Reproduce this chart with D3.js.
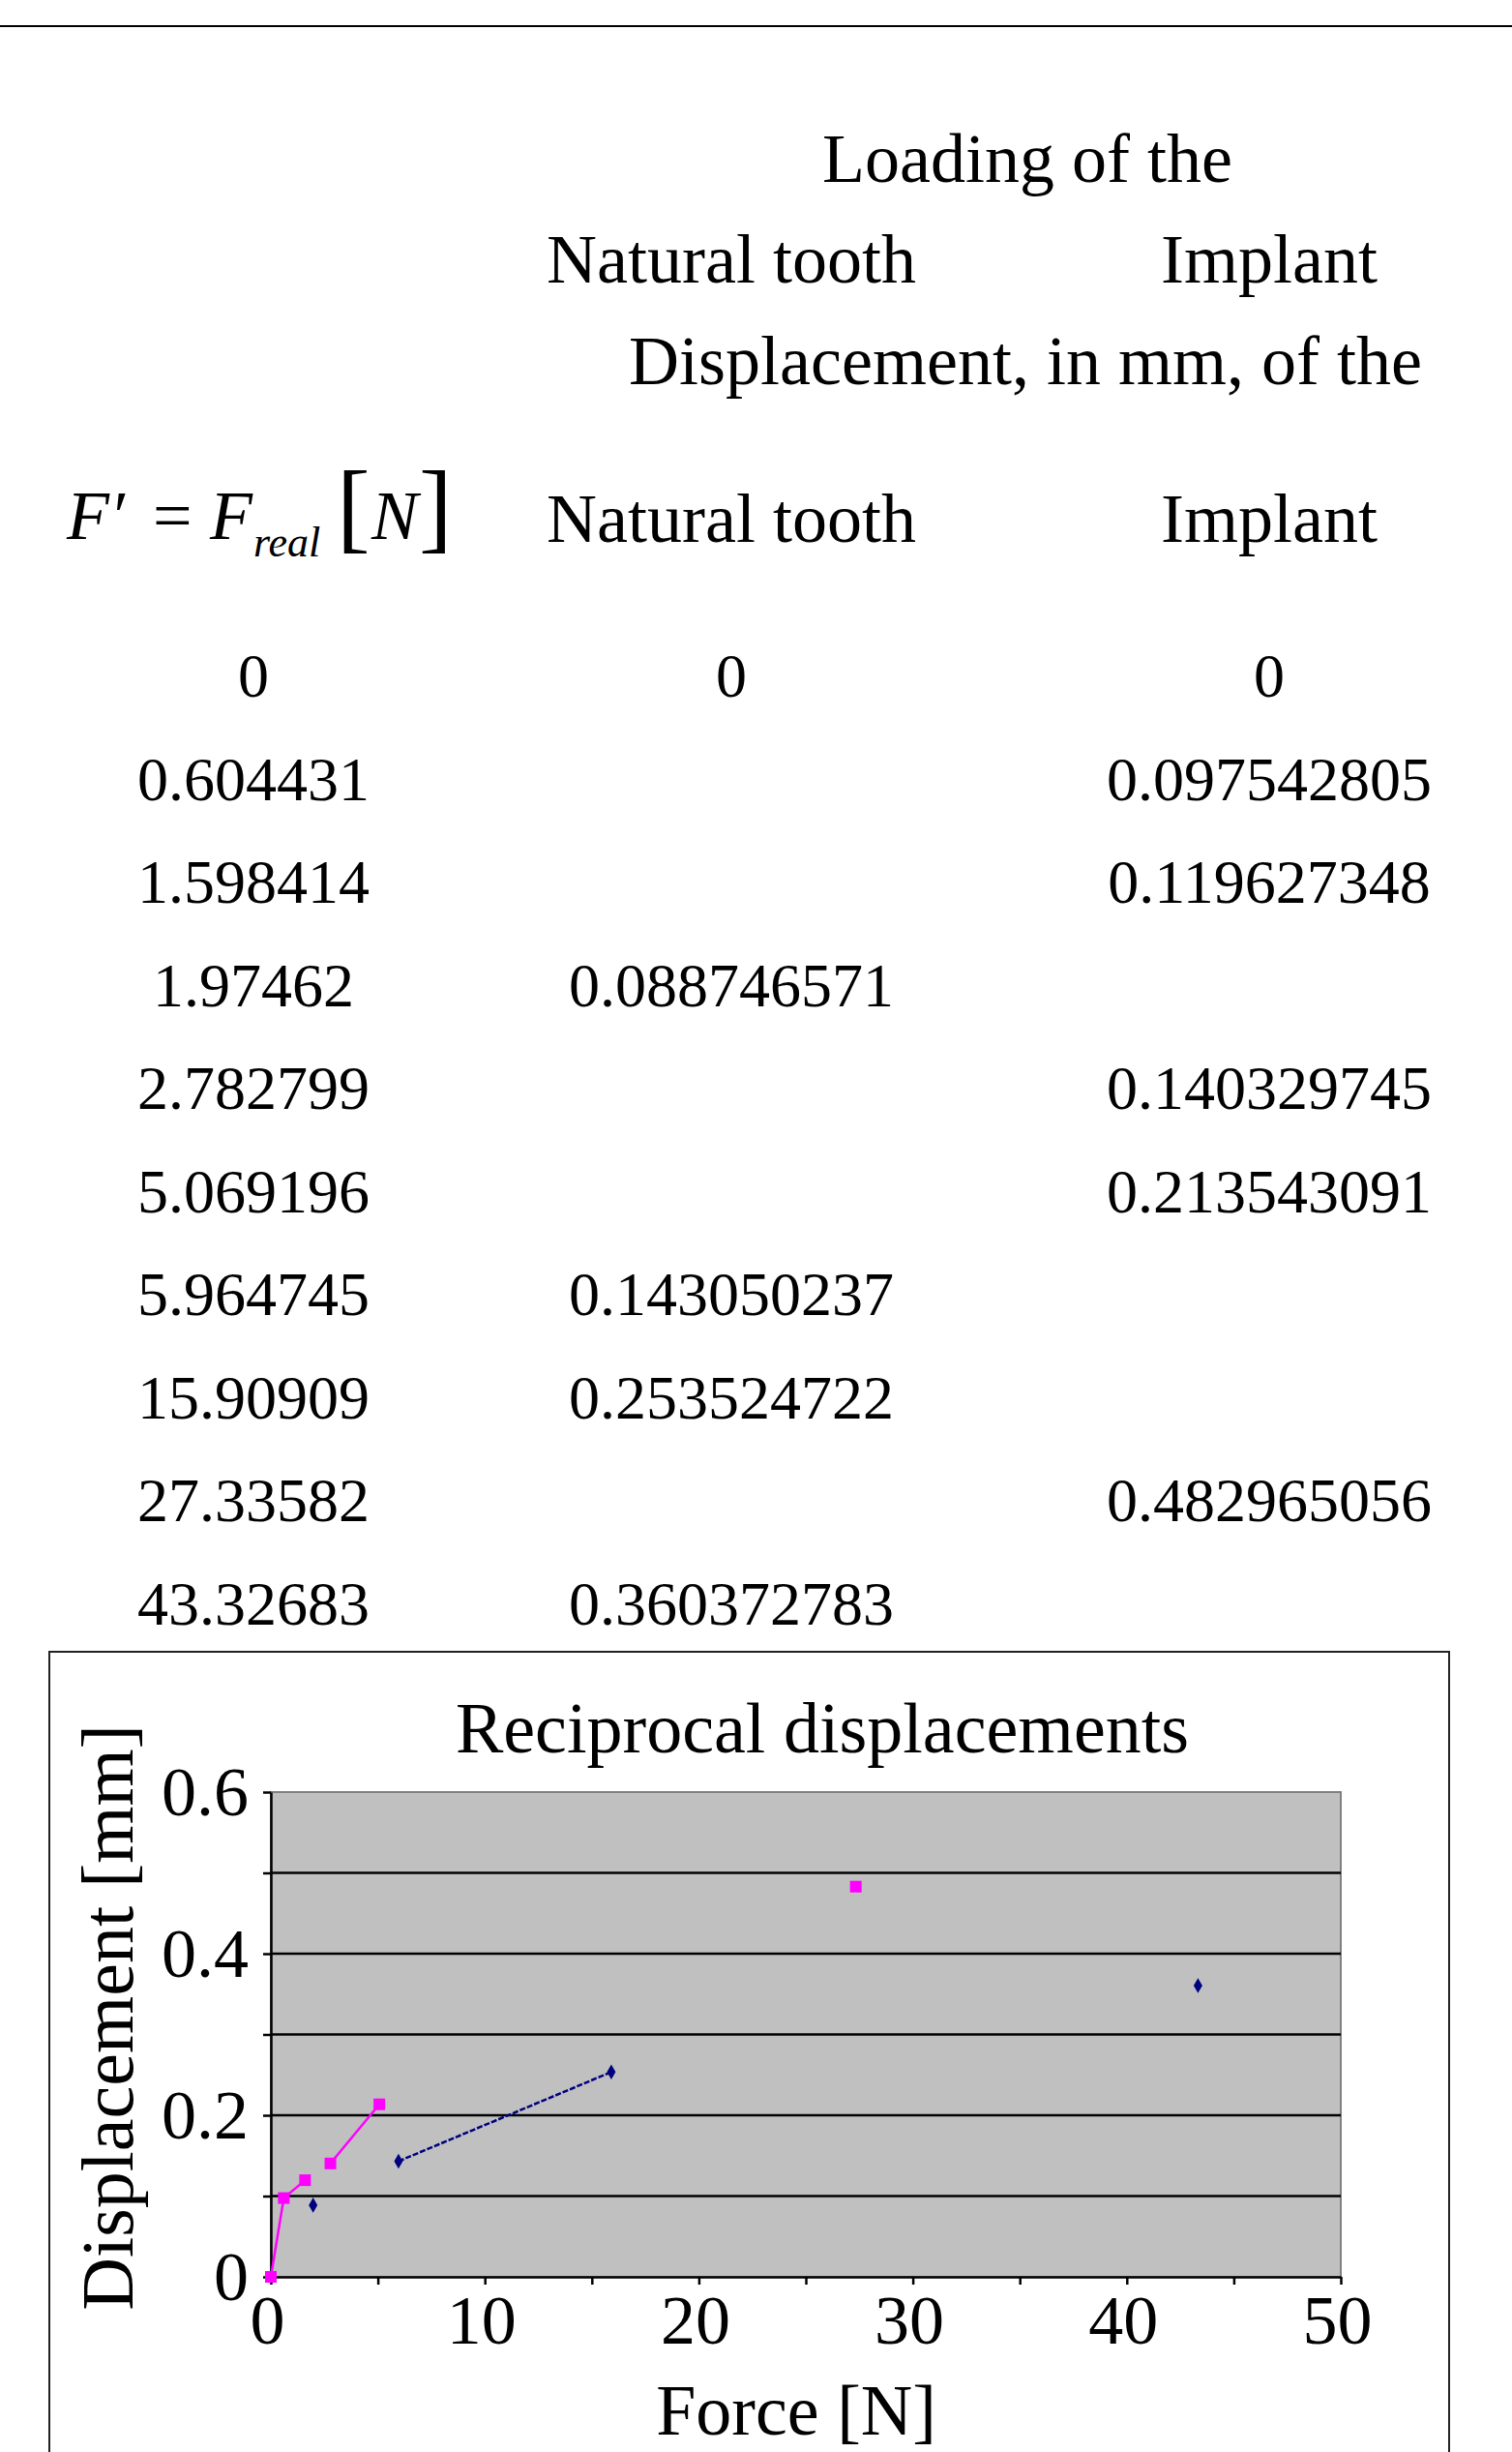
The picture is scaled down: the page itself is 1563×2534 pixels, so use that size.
<!DOCTYPE html>
<html>
<head>
<meta charset="utf-8">
<script src="https://cdn.jsdelivr.net/npm/d3@7"></script>
<style>
  html, body { margin: 0; padding: 0; background: #fff; }
  svg text { font-family: "Liberation Serif", "Times New Roman", serif; fill: #000; }
</style>
</head>
<body>
<svg id="page" width="1563" height="2534"></svg>
<script>
// force column of the table, N
const forces = [0, 0.604431, 1.598414, 1.97462, 2.782799, 5.069196, 5.964745, 15.90909, 27.33582, 43.32683]
// displacements in mm, null where the table cell is empty
const naturalTooth = [0, null, null, 0.088746571, null, null, 0.143050237, 0.253524722, null, 0.360372783]
const implant = [0, 0.097542805, 0.119627348, null, 0.140329745, 0.213543091, null, null, 0.482965056, null]

const columnNames = ["Natural tooth", "Implant"]
const xTickValues = [0, 5, 10, 15, 20, 25, 30, 35, 40, 45, 50]
const yTickValues = [0, 0.1, 0.2, 0.3, 0.4, 0.5, 0.6]

const svg = d3.select("#page")

// ------------------------------------------
// table
// ------------------------------------------

let colX = [262, 756, 1312]
let headerSize = 72
let cellSize = 64

svg.append("line")
  .attr("x1", 0).attr("x2", 1563)
  .attr("y1", 27).attr("y2", 27)
  .attr("stroke", "#000").attr("stroke-width", 2)

let centerText = (x, y, txt, size) => svg.append("text")
  .attr("x", x).attr("y", y)
  .attr("text-anchor", "middle")
  .attr("font-size", size)
  .text(txt)

centerText(1062, 188, "Loading of the", headerSize)
centerText(colX[1], 292, columnNames[0], headerSize)
centerText(colX[2], 292, columnNames[1], headerSize)
centerText(1060, 397, "Displacement, in mm, of the", headerSize)
centerText(colX[1], 560, columnNames[0], headerSize)
centerText(colX[2], 560, columnNames[1], headerSize)

// F' = F_real [N]
let formula = svg.append("g")
formula.append("text").attr("x", 69).attr("y", 557).attr("font-size", 72)
  .attr("font-style", "italic").text("F′")
formula.append("text").attr("x", 158).attr("y", 557).attr("font-size", 72).text("=")
formula.append("text").attr("x", 217).attr("y", 557).attr("font-size", 72)
  .attr("font-style", "italic").text("F")
formula.append("text").attr("x", 262).attr("y", 575).attr("font-size", 44)
  .attr("font-style", "italic").text("real")
formula.append("text").attr("x", 348).attr("y", 558).attr("font-size", 104).text("[")
formula.append("text").attr("x", 384).attr("y", 557).attr("font-size", 72)
  .attr("font-style", "italic").text("N")
formula.append("text").attr("x", 433).attr("y", 558).attr("font-size", 104).text("]")

let rowY = d3.scaleLinear().domain([0, 1]).range([720, 826.5])
let fmt = v => v === null ? "" : String(v)

forces.forEach((f, i) => {
  centerText(colX[0], rowY(i), fmt(f), cellSize)
  centerText(colX[1], rowY(i), fmt(naturalTooth[i]), cellSize)
  centerText(colX[2], rowY(i), fmt(implant[i]), cellSize)
})

// ------------------------------------------
// chart
// ------------------------------------------

let plot = {left: 280, right: 1386, top: 1852, bottom: 2353}

svg.append("rect")
  .attr("x", 51).attr("y", 1707)
  .attr("width", 1447).attr("height", 900)
  .attr("fill", "none").attr("stroke", "#222").attr("stroke-width", 2)

let x = d3.scaleLinear().domain([0, 50]).range([plot.left, plot.right])
let y = d3.scaleLinear().domain([0, 0.6]).range([plot.bottom, plot.top])

svg.append("rect")
  .attr("x", plot.left).attr("y", plot.top)
  .attr("width", plot.right - plot.left).attr("height", plot.bottom - plot.top)
  .attr("fill", "#c0c0c0").attr("stroke", "#808080").attr("stroke-width", 2)

svg.append("g")
  .selectAll("line")
  .data(yTickValues.filter(v => v > 0 && v < 0.6))
  .join("line")
  .attr("x1", plot.left).attr("x2", plot.right)
  .attr("y1", d => y(d)).attr("y2", d => y(d))
  .attr("stroke", "#000").attr("stroke-width", 2.5)

let xAxis = d3.axisBottom(x)
  .tickValues(xTickValues)
  .tickSize(8).tickSizeOuter(0).tickPadding(10)
  .tickFormat(d => d % 10 === 0 ? d : "")

let yAxis = d3.axisLeft(y)
  .tickValues(yTickValues)
  .tickSize(8).tickSizeOuter(0).tickPadding(15)
  .tickFormat(d => Math.round(d * 10) % 2 === 0 ? String(+d.toFixed(1)) : "")

let styleAxis = g => {
  g.select(".domain").attr("stroke", "#000").attr("stroke-width", 2.5)
  g.selectAll(".tick line").attr("stroke", "#000").attr("stroke-width", 2.5)
  g.selectAll(".tick text")
    .attr("font-size", 72)
    .attr("font-family", "Liberation Serif, Times New Roman, serif")
    .attr("fill", "#000")
}

svg.append("g")
  .attr("transform", `translate(0,${plot.bottom})`)
  .call(xAxis)
  .call(styleAxis)
  .call(g => g.selectAll(".tick text").attr("dx", -4))

svg.append("g")
  .attr("transform", `translate(${plot.left},0)`)
  .call(yAxis)
  .call(styleAxis)

// series: gaps where the table cell is blank, like the spreadsheet
let line = d3.line()
  .defined(d => d[1] !== null)
  .x(d => x(d[0]))
  .y(d => y(d[1]))

let naturalPoints = forces.map((f, i) => [f, naturalTooth[i]])
let implantPoints = forces.map((f, i) => [f, implant[i]])

svg.append("path")
  .datum(naturalPoints)
  .attr("d", line)
  .attr("fill", "none")
  .attr("stroke", "#000080").attr("stroke-width", 2.5)
  .attr("stroke-dasharray", "6,2")

svg.append("g")
  .selectAll("path")
  .data(naturalPoints.filter(d => d[1] !== null))
  .join("path")
  .attr("d", d3.symbol(d3.symbolDiamond, 70))
  .attr("transform", d => `translate(${x(d[0])},${y(d[1])})`)
  .attr("fill", "#000080")

svg.append("path")
  .datum(implantPoints)
  .attr("d", line)
  .attr("fill", "none")
  .attr("stroke", "#ff00ff").attr("stroke-width", 2.5)

svg.append("g")
  .selectAll("rect")
  .data(implantPoints.filter(d => d[1] !== null))
  .join("rect")
  .attr("x", d => x(d[0]) - 6)
  .attr("y", d => y(d[1]) - 6)
  .attr("width", 12).attr("height", 12)
  .attr("fill", "#ff00ff")

// titles
svg.append("text")
  .attr("x", 850).attr("y", 1811)
  .attr("text-anchor", "middle")
  .attr("font-size", 74)
  .text("Reciprocal displacements")

svg.append("text")
  .attr("x", 823).attr("y", 2516)
  .attr("text-anchor", "middle")
  .attr("font-size", 74)
  .text("Force [N]")

svg.append("text")
  .attr("transform", "translate(137,2085) rotate(-90)")
  .attr("text-anchor", "middle")
  .attr("font-size", 76)
  .text("Displacement [mm]")
</script>
</body>
</html>
